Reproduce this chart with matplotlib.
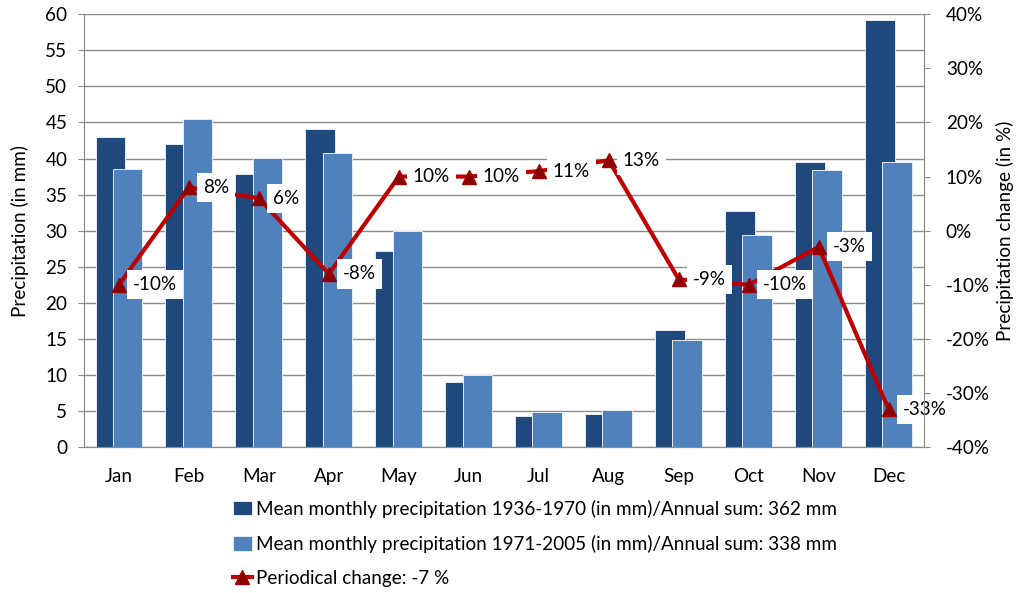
import matplotlib
matplotlib.use("Agg")
import matplotlib.pyplot as plt
import numpy as np

months = ["Jan", "Feb", "Mar", "Apr", "May", "Jun", "Jul", "Aug", "Sep", "Oct", "Nov", "Dec"]
precip_1936_1970 = [43.0, 42.0, 37.9, 44.1, 27.2, 9.0, 4.3, 4.6, 16.3, 32.7, 39.5, 59.2]
precip_1971_2005 = [38.6, 45.5, 40.1, 40.7, 30.0, 10.0, 4.8, 5.2, 14.8, 29.4, 38.4, 39.5]
change_pct = [-10, 8, 6, -8, 10, 10, 11, 13, -9, -10, -3, -33]

label_dark = "Mean monthly precipitation 1936-1970 (in mm)/Annual sum: 362 mm"
label_light = "Mean monthly precipitation 1971-2005 (in mm)/Annual sum: 338 mm"
label_line = "Periodical change: -7 %"

plt.rcParams['font.family'] = ['Lato', 'DejaVu Sans']
FS = 13.6

dark = "#1F497D"
light = "#4F81BD"
red = "#C00000"
grid_c = "#8C8C8C"

fig = plt.figure(figsize=(10.24, 5.93), dpi=100)
ax = fig.add_axes([0.082, 0.246, 0.820, 0.730])
ax2 = ax.twinx()

x = np.arange(len(months))
w = 0.42
b1 = ax.bar(x - 0.125, precip_1936_1970, width=w, color=dark, edgecolor="#E6ECF4", linewidth=0.7, zorder=2, label=label_dark)
b2 = ax.bar(x + 0.12, precip_1971_2005, width=w, color=light, edgecolor="#E6ECF4", linewidth=0.7, zorder=3, label=label_light)

ax.set_xlim(-0.5, 11.5)
ax.set_ylim(0, 60)
ax.set_yticks(np.arange(0, 61, 5))
ax.yaxis.grid(True, color=grid_c, linewidth=1.0, zorder=0)
ax.set_axisbelow(True)
ax.set_xticks(x)
ax.set_xticklabels(months, fontsize=FS)
ax.tick_params(axis='x', length=0, pad=15)
ax.tick_params(axis='y', labelsize=FS, length=4, color=grid_c, pad=8)
ax.set_ylabel("Precipitation (in mm)", fontsize=FS, labelpad=12)
for s in ax.spines.values():
    s.set_color(grid_c)
ax.spines['top'].set_visible(False)

ax2.set_axisbelow(False)
ax2.set_ylim(-40, 40)
ax2.set_yticks(np.arange(-40, 41, 10))
ax2.set_yticklabels([f"{v}%" for v in range(-40, 41, 10)])
ax2.tick_params(axis='y', labelsize=FS, length=4, color=grid_c, pad=12)
ax2.set_ylabel("Precipitation change (in %)", fontsize=FS, labelpad=4)
for s in ax2.spines.values():
    s.set_color(grid_c)
ax2.spines['top'].set_visible(False)

ln, = ax2.plot(x, change_pct, color=red, linewidth=3, marker='^', markersize=10,
               markerfacecolor="#8B0000", markeredgecolor="#A00000", zorder=1.8, label=label_line)
for xi, v in zip(x, change_pct):
    ax2.annotate(f"{v}%", (xi, v), xytext=(10, 0), textcoords='offset points',
                 ha='left', va='center', fontsize=FS, zorder=2.0,
                 bbox=dict(boxstyle='square,pad=0.32', facecolor='white', edgecolor='none'))

fig.legend(handles=[b1, b2, ln], labels=[label_dark, label_light, label_line],
           loc='upper left', bbox_to_anchor=(0.220, 0.170), frameon=False,
           fontsize=FS, handlelength=1.0, handleheight=0.8, handletextpad=0.2,
           labelspacing=0.9, borderaxespad=0)

fig.savefig("out.png", dpi=100)
